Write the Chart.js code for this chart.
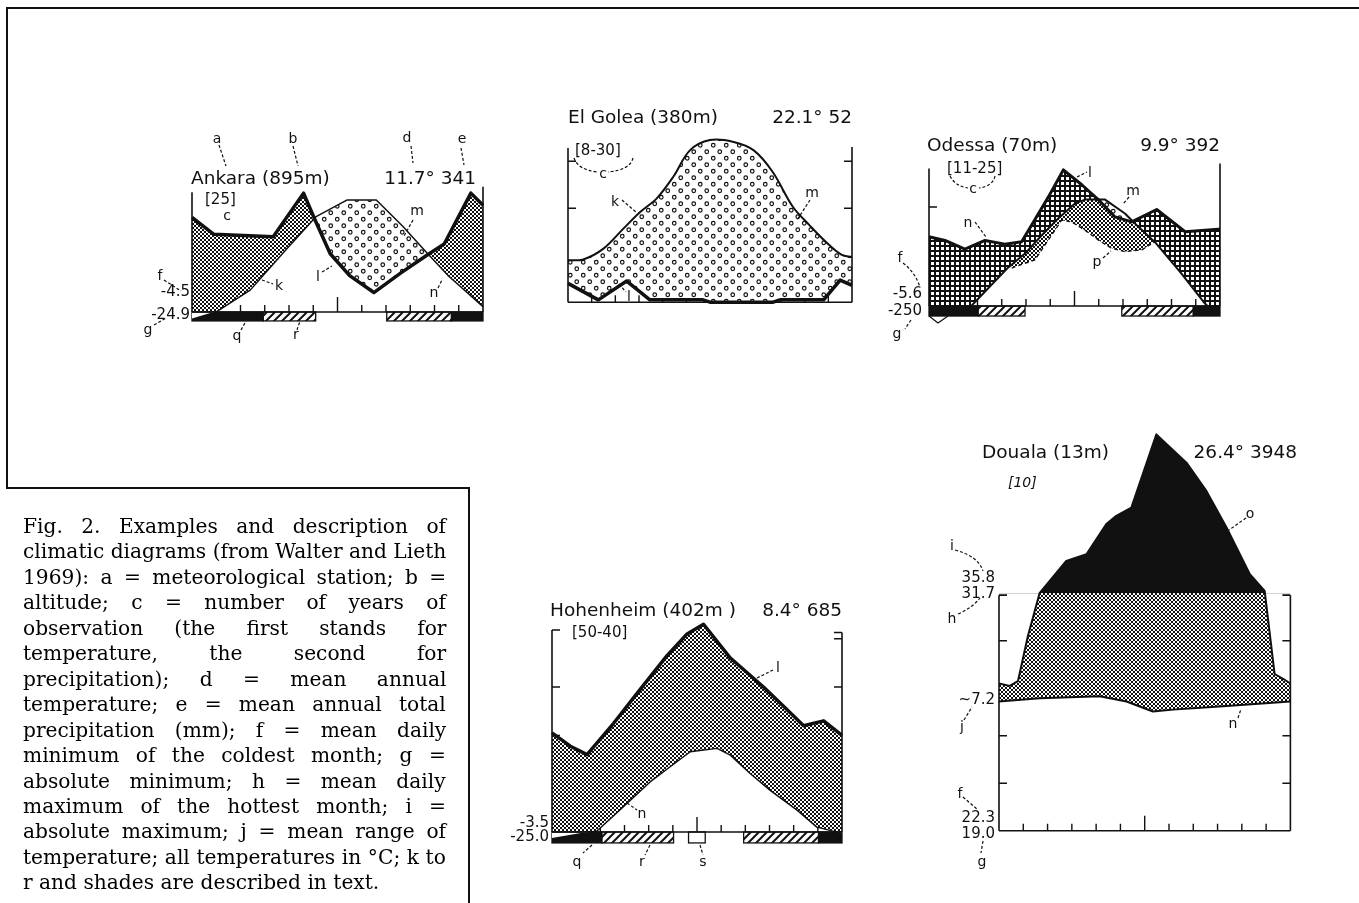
<!DOCTYPE html>
<html>
<head>
<meta charset="utf-8">
<script src="https://cdn.jsdelivr.net/npm/chart.js@4.4.1/dist/chart.umd.min.js"></script>
<style>
body { margin: 0; width: 1359px; height: 903px; overflow: hidden; position: relative; background: #fff; color: #111; font-family: "DejaVu Sans", sans-serif; }
canvas { position: absolute; }
.rule { position: absolute; background: #111; }
.t { position: absolute; white-space: nowrap; line-height: 1; z-index: 3; }
.cap { position: absolute; left: 23px; white-space: nowrap; line-height: 25px; height: 25px; font-family: "DejaVu Serif", serif; color: #000; z-index: 3; }
#lead { position: absolute; left: 0; top: 0; z-index: 2; }
</style>
</head>
<body>
<div class="rule" style="left:6px;top:7px;width:1353px;height:2px"></div>
<div class="rule" style="left:6px;top:7px;width:2px;height:482px"></div>
<div class="rule" style="left:6px;top:487px;width:464px;height:1.5px"></div>
<div class="rule" style="left:468px;top:487px;width:1.5px;height:416px"></div>

<svg id="lead" width="1359" height="903">
  <g fill="none" stroke="#111" stroke-width="1.2" stroke-dasharray="3 2">
    <path d="M219 145 L226 166"/><path d="M293 146 L298 166"/><path d="M411 146 L413 163"/><path d="M461 148 L464 165"/>
    <path d="M164 280 L181 291"/><path d="M154 325 L166 318"/><path d="M262 280 L273 284"/><path d="M322 272 L332 266"/>
    <path d="M413 220 L404 236"/><path d="M438 288 L442 280"/><path d="M241 330 L246 321"/><path d="M297 330 L300 321"/>
    <path d="M574 158 Q578 170 598 172"/><path d="M633 158 Q630 170 608 172"/><path d="M622 200 L637 213"/>
    <path d="M810 200 L797 220"/><path d="M619 284 L626 292"/>
    <path d="M950 176 Q955 186 968 188"/><path d="M995 176 Q993 186 979 188"/><path d="M1077 177 L1087 172"/>
    <path d="M1129 197 L1123 204"/><path d="M975 222 L986 237"/><path d="M1103 258 L1111 251"/>
    <path d="M903 263 Q915 272 920 287"/><path d="M911 320 L905 329"/>
    <path d="M627 803 L637 810"/><path d="M757 678 L773 670"/><path d="M592 845 L583 853"/><path d="M650 845 L645 855"/><path d="M700 845 L703 855"/>
    <path d="M955 550 Q978 556 983 571"/><path d="M958 614 Q972 608 980 598"/><path d="M964 720 L972 707"/>
    <path d="M963 797 L978 810"/><path d="M983 841 L981 853"/><path d="M1246 518 L1229 530"/><path d="M1238 718 L1241 709"/>
  </g>
</svg>

<script>
var INK = '#111';

// ── Ankara (months 0..12, temperature °C, rainfall mm) ────────────────────
var ankTempM  = [0, 1.0, 2.4, 3.8, 5.1, 6.4, 7.6, 8.7, 9.7, 10.6, 12];
var ankTempC  = [-1.5, 0, 4.5, 12.4, 19.6, 23.1, 23.1, 17.6, 12.1, 7.3, 1.1];
var ankRainM  = [0, 0.9, 3.35, 4.6, 5.07, 5.7, 6.5, 7.5, 8.6, 9.7, 10.4, 11.5, 12];
var ankRainMm = [39, 32, 31, 49, 38, 24, 15, 8, 16, 23.5, 28, 49, 44];
var ankFrost  = [[0, 2.94, 'q'], [2.94, 5.1, 'r'], [8.03, 10.7, 'r'], [10.7, 12, 'q']];

// ── El Golea ──────────────────────────────────────────────────────────────
var golTempM  = [0, 0.65, 1.5, 2.35, 3.05, 3.75, 4.45, 5.15, 6.0, 7.0, 7.85, 8.65, 9.5, 10.2, 10.9, 11.55, 12];
var golTempC  = [8.9, 9.1, 11.4, 15.7, 19.2, 22.1, 26.7, 32.3, 34.5, 34.1, 32.3, 27.7, 20.3, 16.4, 12.8, 10.1, 9.6];
var golRainM  = [0, 1.28, 2.48, 3.46, 5.7, 6.0, 8.67, 8.96, 10.8, 11.5, 12];
var golRainMm = [8, 1, 9, 1, 1, 0, 0, 1, 1, 9.4, 7.2];

// ── Odessa (plus reduced rain curve, 10°C = 30 mm) ───────────────────────
var odeTempM  = [0, 1.76, 3.27, 3.96, 4.65, 5.33, 6.02, 6.43, 7.26, 8.08, 8.63, 9.32, 10.42, 11.38, 12];
var odeTempC  = [-3, 0.1, 7.8, 10.6, 14.3, 17.7, 20.7, 21.5, 21.5, 18.7, 16, 12.9, 6.5, 0.5, -2.5];
var odeRainM  = [0, 0.66, 1.48, 2.31, 3.13, 3.82, 4.37, 4.92, 5.54, 6.3, 6.98, 7.67, 8.36, 9.39, 10.56, 11.93, 12];
var odeRainMm = [28, 26.5, 23, 26.5, 25, 26, 35, 44, 55, 49, 43, 36, 34, 39, 30, 31, 31];
var odeRedM   = [3.41, 4.37, 4.92, 5.47, 5.88, 6.43, 6.98, 7.53, 8.08, 8.77, 9.32];
var odeRedMm  = [23, 28, 40, 52, 51, 46, 40, 35, 33, 34, 39];
var odeFrost  = [[0, 2.03, 'q'], [2.03, 3.96, 'r'], [7.95, 10.9, 'r'], [10.9, 12, 'q']];

// ── Hohenheim ─────────────────────────────────────────────────────────────
var hohTempM  = [0, 1.86, 3.1, 4.07, 4.89, 5.72, 6.83, 7.38, 8.2, 9.03, 10.14, 10.96, 12];
var hohTempC  = [-1.4, 0.2, 5.9, 10.4, 13.5, 16.6, 17.3, 15.9, 12.1, 8.6, 4.5, 1.0, -0.3];
var hohRainM  = [0, 0.76, 1.45, 2.55, 3.65, 4.76, 5.59, 6.27, 7.38, 8.75, 9.58, 10.41, 11.24, 12];
var hohRainMm = [41, 35.5, 32, 45, 59, 73, 82, 86, 72, 60, 52, 44, 46, 40];
var hohFrost  = [[0, 2.07, 'q'], [2.07, 5.03, 'r'], [5.65, 6.34, 's'], [7.93, 11.03, 'r'], [11.03, 12, 'q']];

// ── Douala ────────────────────────────────────────────────────────────────
var douTempM  = [0, 1.68, 4.15, 5.25, 6.34, 7.17, 9.23, 12];
var douTempC  = [27.2, 27.9, 28.3, 27.2, 25.1, 25.5, 26.2, 27.2];
var douRainM  = [0, 0.44, 0.78, 1.19, 1.67, 2.77, 3.6, 4.42, 4.83, 5.45, 6.48, 7.72, 8.54, 9.37, 10.33, 10.94, 11.35, 11.7, 12];
var douRainMm = [62, 61, 63, 82, 100, 236, 264, 391, 426, 461, 769, 650, 531, 377, 180, 110, 66, 64, 62];

// Walter-Lieth scales: 10°C = 20 mm, above 100 mm reduced to 1/10
function rainUnits(mm)  { return mm <= 100 ? mm / 2 : 50 + (mm - 100) / 20; }
function redUnits(mm)   { return mm / 3; }
function series(ms, vs, f) {
    return ms.map(function (m, i) { return { x: m, y: f ? f(vs[i]) : vs[i] }; });
}

// ── Patterns ──────────────────────────────────────────────────────────────
function pattern(size, draw) {
    var c = document.createElement('canvas');
    c.width = c.height = size;
    var g = c.getContext('2d');
    g.fillStyle = '#fff'; g.fillRect(0, 0, size, size);
    draw(g);
    return g.createPattern(c, 'repeat');
}
var patCheck = pattern(4, function (g) { g.fillStyle = INK; g.fillRect(0, 0, 2, 2); g.fillRect(2, 2, 2, 2); });
var patGrid  = pattern(5, function (g) { g.fillStyle = INK; g.fillRect(0, 0, 5, 5); g.fillStyle = '#fff'; g.fillRect(1, 1, 3, 3); });
var patDots  = pattern(13, function (g) {
    g.strokeStyle = INK; g.lineWidth = 1.2;
    [[3.25, 3.25], [9.75, 9.75]].forEach(function (p) { g.beginPath(); g.arc(p[0], p[1], 1.8, 0, 7); g.stroke(); });
});
var patHatch = pattern(8, function (g) {
    g.strokeStyle = INK; g.lineWidth = 2;
    g.beginPath(); g.moveTo(-1, 9); g.lineTo(9, -1); g.moveTo(-5, 5); g.lineTo(5, -5); g.moveTo(3, 13); g.lineTo(13, 3); g.stroke();
});

// ── Axes, frost bars, etc. ───────────────────────────────────────────────
function framePlugin(box, ex) {
    return {
        id: 'frame',
        beforeDatasetsDraw: function (chart) {
            var ctx = chart.ctx, xs = chart.scales.x, ys = chart.scales.y;
            var L = xs.getPixelForValue(0), R = xs.getPixelForValue(12), base = ys.getPixelForValue(0);
            ctx.save();
            ctx.strokeStyle = INK; ctx.lineWidth = 1.4;
            ctx.beginPath();
            for (var m = 1; m < 12; m++) {
                var x = xs.getPixelForValue(m);
                ctx.moveTo(x, base); ctx.lineTo(x, base - (m === 6 ? 15 : 7));
            }
            (box.ticksL || []).forEach(function (v) { var y = ys.getPixelForValue(v); ctx.moveTo(L, y); ctx.lineTo(L + 8, y); });
            (box.ticksR || []).forEach(function (v) { var y = ys.getPixelForValue(v); ctx.moveTo(R, y); ctx.lineTo(R - 8, y); });
            ctx.stroke();
            ctx.restore();
        },
        afterDatasetsDraw: function (chart) {
            var ctx = chart.ctx, xs = chart.scales.x, ys = chart.scales.y;
            var L = xs.getPixelForValue(0), R = xs.getPixelForValue(12), base = ys.getPixelForValue(0);
            ctx.save();
            ctx.strokeStyle = INK; ctx.lineWidth = 1.3;
            (ex.frost || []).forEach(function (s) {
                var x0 = xs.getPixelForValue(s[0]), x1 = xs.getPixelForValue(s[1]);
                ctx.fillStyle = s[2] === 'q' ? INK : (s[2] === 'r' ? patHatch : '#fff');
                ctx.fillRect(x0, base, x1 - x0, box.barH);
                ctx.strokeRect(x0, base, x1 - x0, box.barH);
            });
            if (ex.crescent != null) {
                var p = chart.getDatasetMeta(ex.crescent).data;
                ctx.save();
                ctx.beginPath(); ctx.rect(L, base + 0.7, R - L, box.barH); ctx.clip();
                ctx.beginPath(); ctx.moveTo(p[0].x, base);
                p.forEach(function (q) { ctx.lineTo(q.x, q.y); });
                ctx.lineTo(p[p.length - 1].x, base); ctx.closePath();
                ctx.fillStyle = '#fff'; ctx.fill();
                ctx.beginPath();
                p.forEach(function (q, i) { if (i) ctx.lineTo(q.x, q.y); else ctx.moveTo(q.x, q.y); });
                ctx.lineWidth = 1.5; ctx.stroke();
                ctx.restore();
            }
            if (ex.marker) {
                var yb = base + box.barH;
                ctx.beginPath(); ctx.moveTo(L, yb); ctx.lineTo(L + 9, yb + 7); ctx.lineTo(L + 19, yb); ctx.stroke();
            }
            // vertical axes + baseline
            ctx.lineWidth = 1.6;
            var tl = ys.getPixelForValue(box.axisTop[0]), tr = ys.getPixelForValue(box.axisTop[1]);
            ctx.beginPath();
            ctx.moveTo(L, base); ctx.lineTo(L, tl);
            ctx.moveTo(R, base); ctx.lineTo(R, tr);
            if (box.cap) { ctx.moveTo(L, tl); ctx.lineTo(L + 8, tl); ctx.moveTo(R, tr); ctx.lineTo(R - 8, tr); }
            ctx.moveTo(L, base); ctx.lineTo(R, base);
            ctx.stroke();
            ctx.restore();
        }
    };
}

function makeDiagram(box, datasets, ex) {
    var PL = 14, PR = 14, PT = 4, PB = 20;
    var w = box.right - box.left, h = box.ymax * box.ppu;
    var cv = document.createElement('canvas');
    cv.width = Math.round(w + PL + PR);
    cv.height = Math.round(h + PT + PB);
    cv.style.left = (box.left - PL) + 'px';
    cv.style.top = (box.base - h - PT) + 'px';
    document.body.appendChild(cv);
    return new Chart(cv, {
        type: 'line',
        data: { datasets: datasets },
        options: {
            responsive: false,
            animation: false,
            devicePixelRatio: 1,
            layout: { padding: { left: PL, right: cv.width - PL - w, top: PT, bottom: cv.height - PT - h } },
            scales: {
                x: { type: 'linear', min: 0, max: 12, display: false },
                y: { type: 'linear', min: 0, max: box.ymax, display: false }
            },
            elements: { point: { radius: 0, hoverRadius: 0 }, line: { borderColor: INK, borderJoinStyle: 'round' } },
            plugins: { legend: { display: false }, tooltip: { enabled: false } }
        },
        plugins: [framePlugin(box, ex)]
    });
}

// ── Build the five diagrams ──────────────────────────────────────────────
makeDiagram(
    { left: 192, right: 483, base: 312, ppu: 4.85, ymax: 27, axisTop: [24.7, 25.8], barH: 9, ticksL: [], ticksR: [10, 20] },
    [
        { data: series(ankTempM, ankTempC), borderWidth: 1.5, fill: false, clip: 4 },
        { data: series(ankRainM, ankRainMm, rainUnits), borderWidth: 3.5, clip: 4, fill: { target: 0, above: patCheck, below: patDots } }
    ],
    { frost: ankFrost, crescent: 0 }
);

makeDiagram(
    { left: 568, right: 852, base: 302, ppu: 4.7, ymax: 36, axisTop: [32.8, 33], barH: 0, ticksL: [20, 30], ticksR: [20, 30] },
    [
        { data: series(golTempM, golTempC), borderWidth: 2, tension: 0.35, fill: false, clip: 4 },
        { data: series(golRainM, golRainMm, rainUnits), borderWidth: 3.5, clip: 4, fill: { target: 0, above: patCheck, below: patDots } }
    ],
    {}
);

makeDiagram(
    { left: 929, right: 1220, base: 305.7, ppu: 4.95, ymax: 29.5, axisTop: [27.8, 28.8], barH: 10, ticksL: [10, 20], ticksR: [] },
    [
        { data: series(odeTempM, odeTempC), borderWidth: 2, fill: false, clip: 4 },
        { data: series(odeRainM, odeRainMm, rainUnits), borderWidth: 3, clip: 4, fill: { target: 0, above: patGrid, below: patDots } },
        { data: series(odeRedM, odeRedMm, redUnits), borderWidth: 1.3, borderDash: [4, 3], clip: 4, fill: { target: 0, above: 'rgba(0,0,0,0)', below: patCheck } }
    ],
    { frost: odeFrost, marker: true }
);

makeDiagram(
    { left: 551.7, right: 841.7, base: 831.7, ppu: 4.83, ymax: 44.5, axisTop: [41.8, 41.3], barH: 11, cap: true, ticksL: [10, 20, 30], ticksR: [10, 20, 30, 40] },
    [
        { data: series(hohTempM, hohTempC), borderWidth: 1.5, fill: false, clip: 4 },
        { data: series(hohRainM, hohRainMm, rainUnits), borderWidth: 3.5, clip: 4, fill: { target: 0, above: patCheck, below: patDots } }
    ],
    { frost: hohFrost, crescent: 0 }
);

makeDiagram(
    { left: 999.3, right: 1290.7, base: 831, ppu: 4.75, ymax: 85, axisTop: [49.6, 49.6], barH: 0, cap: true, ticksL: [10, 20, 30, 40], ticksR: [10, 20, 30, 40] },
    [
        { data: series(douRainM, douRainMm, rainUnits), borderWidth: 2, clip: 4, fill: { value: 50, above: INK, below: 'rgba(0,0,0,0)' } },
        { data: series(douTempM, douTempC), borderWidth: 2, clip: 4, fill: { target: 0, above: patDots, below: patCheck } }
    ],
    {}
);

// ── Labels ───────────────────────────────────────────────────────────────
var notes = [
    ['a', 217, 138, 14, 'm'], ['b', 293, 138, 14, 'm'], ['d', 407, 137, 14, 'm'], ['e', 462, 138, 14, 'm'],
    ['Ankara (895m)', 191, 178, 18.5, 's'], ['11.7° 341', 476, 178, 18.5, 'e'],
    ['[25]', 205, 199, 15, 's'], ['c', 227, 215, 14, 'm'], ['f', 160, 275, 14, 'm'],
    ['-4.5', 190, 291, 15, 'e'], ['-24.9', 190, 314, 15, 'e'], ['g', 148, 329, 14, 'm'],
    ['k', 279, 285, 14, 'm'], ['l', 318, 276, 14, 'm'], ['m', 417, 210, 14, 'm'], ['n', 434, 292, 14, 'm'],
    ['q', 237, 335, 14, 'm'], ['r', 296, 334, 14, 'm'],

    ['El Golea (380m)', 568, 117, 18.5, 's'], ['22.1° 52', 852, 117, 18.5, 'e'],
    ['[8-30]', 575, 150, 15, 's'], ['c', 603, 173, 14, 'm'], ['k', 615, 201, 14, 'm'],
    ['m', 812, 192, 14, 'm'], ['l', 629, 296, 14, 'm'],

    ['Odessa (70m)', 927, 145, 18.5, 's'], ['9.9° 392', 1220, 145, 18.5, 'e'],
    ['[11-25]', 947, 168, 15, 's'], ['c', 973, 188, 14, 'm'], ['l', 1090, 172, 14, 'm'],
    ['m', 1133, 190, 14, 'm'], ['n', 968, 222, 14, 'm'], ['p', 1097, 261, 14, 'm'],
    ['f', 900, 257, 14, 'm'], ['-5.6', 922, 293, 15, 'e'], ['-250', 922, 310, 15, 'e'], ['g', 897, 333, 14, 'm'],

    ['Hohenheim (402m )', 550, 610, 18.5, 's'], ['8.4° 685', 842, 610, 18.5, 'e'],
    ['[50-40]', 572, 632, 15, 's'], ['n', 642, 813, 14, 'm'], ['l', 778, 667, 14, 'm'],
    ['-3.5', 549, 822, 15, 'e'], ['-25.0', 549, 836, 15, 'e'],
    ['q', 577, 861, 14, 'm'], ['r', 642, 861, 14, 'm'], ['s', 703, 861, 14, 'm'],

    ['Douala (13m)', 982, 452, 18.5, 's'], ['26.4° 3948', 1297, 452, 18.5, 'e'],
    ['[10]', 1008, 482, 14, 's', 'italic'], ['o', 1250, 513, 14, 'm'], ['n', 1233, 723, 14, 'm'],
    ['i', 952, 545, 14, 'm'], ['35.8', 995, 577, 15, 'e'], ['31.7', 995, 593, 15, 'e'], ['h', 952, 618, 14, 'm'],
    ['~7.2', 995, 699, 15, 'e'], ['j', 962, 726, 14, 'm'],
    ['f', 960, 793, 14, 'm'], ['22.3', 995, 817, 15, 'e'], ['19.0', 995, 833, 15, 'e'], ['g', 982, 861, 14, 'm']
];
notes.forEach(function (n) {
    var d = document.createElement('div');
    d.className = 't';
    d.textContent = n[0];
    d.style.left = n[1] + 'px';
    d.style.top = n[2] + 'px';
    d.style.fontSize = n[3] + 'px';
    if (n[5]) d.style.fontStyle = n[5];
    d.style.transform = 'translate(' + (n[4] === 's' ? '0' : n[4] === 'm' ? '-50%' : '-100%') + ',-50%)';
    document.body.appendChild(d);
});

// ── Caption ──────────────────────────────────────────────────────────────
var capLines = [
    'Fig. 2. Examples and description of',
    'climatic diagrams (from Walter and Lieth',
    '1969): a = meteorological station; b =',
    'altitude; c = number of years of',
    'observation (the first stands for',
    'temperature, the second for',
    'precipitation); d = mean annual',
    'temperature; e = mean annual total',
    'precipitation (mm); f = mean daily',
    'minimum of the coldest month; g =',
    'absolute minimum; h = mean daily',
    'maximum of the hottest month; i =',
    'absolute maximum; j = mean range of',
    'temperature; all temperatures in °C; k to',
    'r and shades are described in text.'
];
var capWidth = 423, capLast = 357;
var probe = document.createElement('div');
probe.className = 'cap'; probe.style.fontSize = '18px'; probe.textContent = capLines[capLines.length - 1];
document.body.appendChild(probe);
var capSize = 18 * capLast / probe.offsetWidth;
document.body.removeChild(probe);
capLines.forEach(function (txt, i) {
    var d = document.createElement('div');
    d.className = 'cap';
    d.style.fontSize = capSize + 'px';
    d.style.top = (514 + i * 25.45) + 'px';
    d.textContent = txt;
    document.body.appendChild(d);
    if (i < capLines.length - 1) {
        var gaps = txt.split(' ').length - 1;
        d.style.wordSpacing = ((capWidth - d.offsetWidth) / gaps) + 'px';
    }
});
</script>
</body>
</html>
